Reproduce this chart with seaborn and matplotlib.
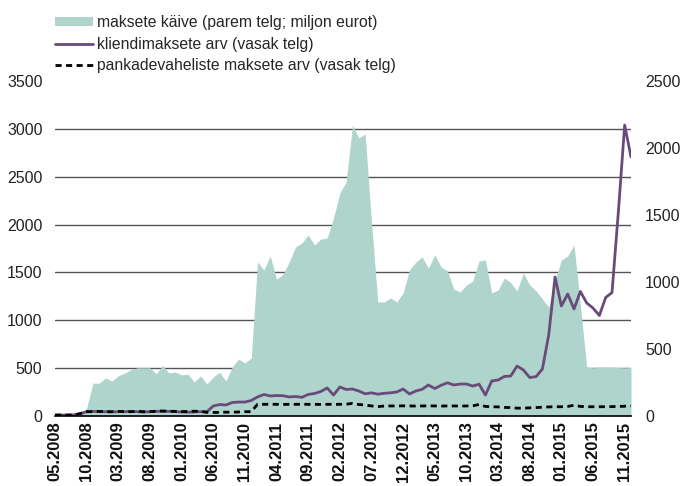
import numpy as np
import matplotlib
matplotlib.use("Agg")
import matplotlib.pyplot as plt
from matplotlib.patches import Patch
from matplotlib.lines import Line2D
import seaborn as sns

# ---------------- data (monthly, 05.2008 .. 12.2015) ----------------
tick_labels = ["05.2008", "10.2008", "03.2009", "08.2009", "01.2010", "06.2010",
               "11.2010", "04.2011", "09.2011", "02.2012", "07.2012", "12.2012",
               "05.2013", "10.2013", "03.2014", "08.2014", "01.2015", "06.2015",
               "11.2015"]

# payment turnover (right axis, million euro)
turnover = [0, 0, 0, 0, 5, 60, 245, 245, 285, 260,
            300, 320, 345, 360, 360, 360, 315, 378, 321, 328,
            306, 313, 254, 299, 239, 291, 328, 261, 366, 425,
            396, 433, 1150, 1090, 1194, 1022, 1055, 1149, 1261, 1291,
            1351, 1276, 1321, 1328, 1478, 1664, 1746, 2170, 2075, 2105,
            1450, 851, 851, 881, 851, 918, 1090, 1149, 1187, 1104,
            1202, 1112, 1082, 948, 925, 978, 1007, 1157, 1164, 918,
            940, 1030, 995, 933, 1067, 978, 933, 873, 813, 1015,
            1164, 1194, 1276, 828, 366, 360, 366, 364, 364, 362,
            360, 362]

# number of client payments (left axis)
client_payments = [10, 10, 10, 12, 25, 45, 48, 45, 45, 42,
                   45, 45, 48, 45, 42, 45, 48, 50, 48, 45,
                   42, 40, 42, 45, 45, 104, 120, 115, 141, 146,
                   146, 162, 199, 225, 209, 214, 212, 199, 204, 195,
                   225, 235, 256, 293, 219, 303, 277, 282, 261, 232,
                   242, 228, 237, 242, 251, 282, 230, 261, 279, 324,
                   287, 321, 347, 324, 334, 334, 313, 332, 219, 366,
                   376, 413, 418, 522, 481, 402, 411, 491, 846, 1452,
                   1149, 1275, 1118, 1301, 1181, 1128, 1050, 1238, 1290, 2130,
                   3040, 2706]

# number of interbank payments (left axis)
interbank_payments = [10, 10, 10, 10, 25, 45, 45, 48, 45, 45,
                      48, 45, 45, 48, 45, 45, 50, 52, 50, 48,
                      45, 48, 50, 48, 38, 37, 38, 40, 40, 42,
                      45, 45, 122, 122, 123, 122, 121, 122, 122, 123,
                      122, 122, 121, 122, 122, 122, 123, 132, 120, 115,
                      105, 98, 104, 105, 105, 106, 105, 104, 105, 106,
                      105, 104, 105, 105, 104, 105, 106, 120, 100, 97,
                      95, 90, 88, 82, 82, 85, 88, 92, 95, 97,
                      97, 100, 112, 100, 97, 97, 97, 97, 98, 100,
                      102, 105]

legend_labels = ["maksete käive (parem telg; miljon eurot)",
                 "kliendimaksete arv (vasak telg)",
                 "pankadevaheliste maksete arv (vasak telg)"]

left_ticks = [0, 500, 1000, 1500, 2000, 2500, 3000, 3500]
right_ticks = [0, 500, 1000, 1500, 2000, 2500]

# ---------------- styling ----------------
AREA = "#afd4cb"
PURPLE = "#6a4a7a"
GRID = "#555555"

sns.set_theme(style="white")
plt.rcParams["font.family"] = ["Liberation Sans", "DejaVu Sans"]

x = np.arange(len(turnover))

fig = plt.figure(figsize=(6.84, 4.86), dpi=100)
ax = fig.add_axes([55 / 684, 70 / 486, 576 / 684, 335 / 486])
ax2 = ax.twinx()
ax.set_zorder(2)
ax2.set_zorder(1)
ax.patch.set_visible(False)

# area on right axis (drawn below)
ax2.fill_between(x, 0, turnover, color=AREA, lw=0, zorder=2)
ax2.set_ylim(0, right_ticks[-1])
ax2.set_yticks(right_ticks)
# gridlines at the left-axis ticks, drawn behind the area
ax2.set_yticks(np.array(left_ticks) * right_ticks[-1] / left_ticks[-1], minor=True)
ax2.grid(False)
ax2.grid(which="minor", axis="y", color=GRID, lw=1.0, zorder=0)
ax2.set_axisbelow(True)

# lines on left axis
sns.lineplot(x=x, y=client_payments, ax=ax, color=PURPLE, lw=2.0)
sns.lineplot(x=x, y=interbank_payments, ax=ax, color="black", lw=2.0,
             linestyle=(0, (2.2, 1.6)))
ax.set_ylim(0, left_ticks[-1])
ax.set_yticks(left_ticks)
ax.grid(False)

ax.set_xlim(0, len(x) - 1)
ax.set_xticks(np.arange(0, len(x), 5))
ax.set_xticklabels(tick_labels, rotation=90, fontweight="bold", fontsize=12,
                   color="#111111")

for a in (ax, ax2):
    for s in a.spines.values():
        s.set_visible(False)
ax.spines["bottom"].set_visible(True)
ax.spines["bottom"].set_color("black")
ax.spines["bottom"].set_linewidth(1.2)

ax.tick_params(axis="y", length=0, pad=9, labelsize=11.5, labelcolor="#222222")
ax.tick_params(axis="x", length=0, pad=4)
ax2.tick_params(axis="y", which="both", length=0, pad=10, labelsize=11.5,
                labelcolor="#222222")
ax.set_xlabel("")
ax.set_ylabel("")
ax2.set_ylabel("")

handles = [Patch(facecolor=AREA, edgecolor="none"),
           Line2D([], [], color=PURPLE, lw=2.0),
           Line2D([], [], color="black", lw=2.0, linestyle=(0, (2.2, 1.6)))]
fig.legend(handles, legend_labels, loc="upper left",
           bbox_to_anchor=(55 / 684, 1 - 15 / 486), frameon=False,
           fontsize=11.3, handlelength=2.45, handleheight=0.5,
           handletextpad=0.25, labelspacing=0.42, borderpad=0, borderaxespad=0)

fig.savefig("out.png", dpi=100)
